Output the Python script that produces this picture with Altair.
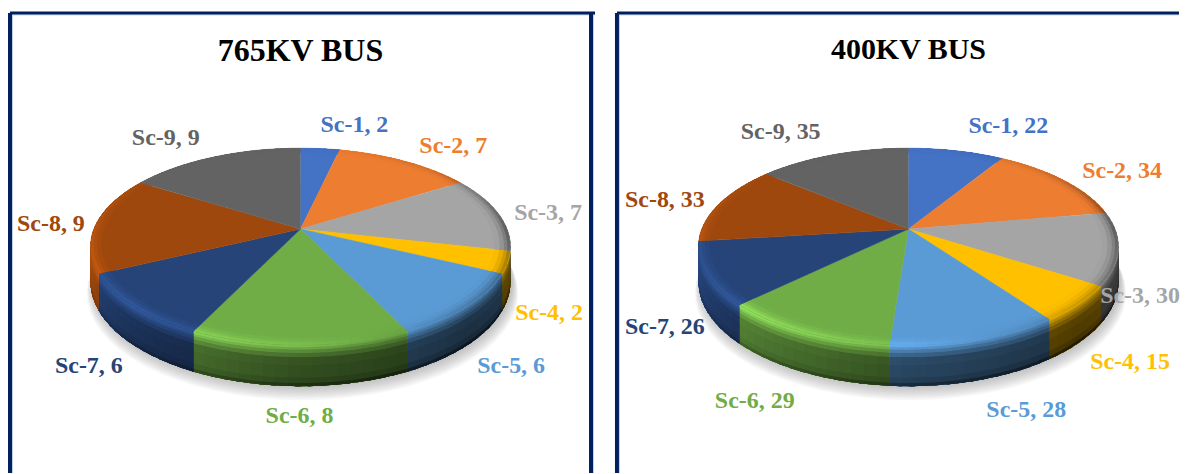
import altair as alt
import numpy as np
import pandas as pd

alt.data_transformers.disable_max_rows()

names = ["Sc-1", "Sc-2", "Sc-3", "Sc-4", "Sc-5", "Sc-6", "Sc-7", "Sc-8", "Sc-9"]
colors = ["#4472C4", "#ED7D31", "#A5A5A5", "#FFC000", "#5B9BD5", "#70AD47", "#264478", "#9E480E", "#636363"]
values_765 = [2, 7, 7, 2, 6, 8, 6, 9, 9]
values_400 = [22, 34, 30, 15, 28, 29, 26, 33, 35]
title_765 = "765KV BUS"
title_400 = "400KV BUS"

# label placement, in page pixels
label_x_765 = [355, 454, 549, 550, 512, 300, 89, 51, 166]
label_y_765 = [125, 146, 213, 313, 366, 416, 366, 224, 138]
label_x_400 = [1008, 1122, 1140, 1130, 1026, 754, 664, 664, 780]
label_y_400 = [126, 171, 296, 362, 410, 401, 327, 200, 132]

NAVY = "#002060"
PALE = "#c3cfe6"
A, B, K, D = 207.0, 95.4, 0.178, 34.0   # perspective of the pie disc
TH = [0, 45, 90, 135, 180, 225, 270, 315, 360]
RIM = [0, -.12, -.5, -.22, .12, .34, .18, 0, 0]
WALL = [-.5, -.5, -.6, -.66, -.52, -.24, .15, .1, -.5]
STEP = 3.0


def shade(col, f):
    rgb = np.array([int(col[i:i + 2], 16) for i in (1, 3, 5)], float)
    rgb = np.clip(rgb * (1 + f), 0, 255).astype(int)
    return "#%02x%02x%02x" % tuple(rgb)


def project(cx, cy, theta, r=1.0, z=0.0):
    t = np.radians(theta)
    u, v = r * np.sin(t), -r * np.cos(t)
    w = 1 - K * v
    return cx + A * u / w, cy + B * v / w + D * z / w


def poly(rows, q, pts, c):
    for i, (x, y) in enumerate(pts):
        rows.append({"x": round(float(x), 1), "y": round(float(y), 1), "q": q, "i": i, "c": c})


def panel(values, title, lx, ly, px, py, w, h, pcx, pcy, frame_x, pale_x):
    cx, cy = pcx - px, pcy - py
    total = sum(values)
    edges = np.concatenate([[0], np.cumsum(values) / total * 360])
    shadow, top = [], []

    NS = 10
    for n in range(NS):
        g = 1.0 + (NS - 1 - n) * 0.003
        ths = np.arange(0, 360, 5.0)
        pts = []
        for t in ths:
            x_, y_ = project(cx, cy, t, 1.0, 1.0 + (NS - 1 - n) * 0.035)
            pts.append((cx + (x_ - cx) * g + 2, y_ + 1))
        poly(shadow, "s%d" % n, pts, "#8a8a8a")

    rs = [.925, .95, .97, .985, 1.0]
    zs = [0, .06, .12, .2, .3, .5, .8, .93]
    rim_layers = [[] for _ in rs[:-1]]
    wall_layers = [[] for _ in zs]
    q = 0
    for s, col in enumerate(colors):
        a0, a1 = edges[s], edges[s + 1]
        grid = np.linspace(a0, a1, int(np.ceil((a1 - a0) / STEP)) + 1)
        pts = [project(cx, cy, 0, 0.0)] + [project(cx, cy, t) for t in grid]
        poly(top, "t%d" % s, pts, col)
        for t0, t1 in zip(grid[:-1], grid[1:]):
            tm = (t0 + t1) / 2
            t1x = min(t1 + 1.2, a1)
            fr = float(np.interp(tm, TH, RIM))
            fw = float(np.interp(tm, TH, WALL))
            for j in range(len(rs) - 1):
                f = fr * ((j + .5) / 4) ** 1.5
                q += 1
                poly(rim_layers[j], "r%d" % q, [project(cx, cy, t0, rs[j]), project(cx, cy, t1x, rs[j]),
                                                project(cx, cy, t1x, 1.0), project(cx, cy, t0, 1.0)],
                     shade(col, f))
            # only the part of the side wall that faces the viewer
            if np.cos(np.radians(tm)) < -K + 0.03:
                fs = [fr * .95 + fw * .05, fr * .75 + fw * .25, fr * .5 + fw * .5, fr * .25 + fw * .75,
                      fw, fw - .03, fw - .08, fw - .2]
                for j in range(len(zs)):
                    q += 1
                    poly(wall_layers[j], "w%d" % q, [project(cx, cy, t0, 1, zs[j]), project(cx, cy, t1x, 1, zs[j]),
                                                     project(cx, cy, t1x, 1, 1.0), project(cx, cy, t0, 1, 1.0)],
                         shade(col, fs[j]))
    rim = [r for layer in rim_layers for r in layer]
    wall = [r for layer in wall_layers for r in layer]

    xs = alt.X("x:Q", scale=alt.Scale(domain=[0, w]), axis=None)
    ys = alt.Y("y:Q", scale=alt.Scale(domain=[h, 0]), axis=None)

    def shape(rows, sw=0.0):
        return alt.Chart(pd.DataFrame(rows)).mark_line(filled=True, strokeWidth=sw, interpolate="linear").encode(
            x=xs, y=ys, detail="q:N", order="i:Q",
            fill=alt.Fill("c:N", scale=None), stroke=alt.Stroke("c:N", scale=None))

    shad = alt.Chart(pd.DataFrame(shadow)).mark_line(filled=True, strokeWidth=0, opacity=0.05, fill="#707070").encode(
        x=xs, y=ys, detail="q:N", order="i:Q")

    labels = pd.DataFrame({
        "x": [a - px for a in lx], "y": [b - py for b in ly],
        "t": ["%s, %d" % (n, v) for n, v in zip(names, values)], "c": colors})
    text = alt.Chart(labels).mark_text(font="Liberation Serif", fontWeight="bold", fontSize=24,
                                       align="center", baseline="middle").encode(
        x=xs, y=ys, text="t:N", color=alt.Color("c:N", scale=None))
    ttl = alt.Chart(pd.DataFrame({"x": [pcx - px], "y": [title[1] - py], "t": [title[0]]})).mark_text(
        font="Liberation Serif", fontWeight="bold", fontSize=title[2], color="#000000",
        align="center", baseline="middle").encode(x=xs, y=ys, text="t:N")

    fv = alt.Chart(pd.DataFrame({"x": frame_x})).mark_rule(color=NAVY, strokeWidth=4).encode(x=xs)
    fh = alt.Chart(pd.DataFrame({"y": [0]})).mark_rule(color=NAVY, strokeWidth=3).encode(y=ys)
    pv = alt.Chart(pd.DataFrame({"x": pale_x})).mark_rule(color=PALE, strokeWidth=1).encode(x=xs)
    ph = alt.Chart(pd.DataFrame({"y": [2]})).mark_rule(color=PALE, strokeWidth=1).encode(y=ys)

    return alt.layer(ph, pv, fh, fv, shad, shape(wall), shape(top, 0.5), shape(rim), text, ttl).properties(width=w, height=h)


left = panel(values_765, (title_765, 51, 32), label_x_765, label_y_765, 10, 12.5, 586, 461, 301, 229, [0, 582], [2.5, 584.5])
right = panel(values_400, (title_400, 50, 30), label_x_400, label_y_400, 616, 12.5, 563, 461, 908, 229, [0], [2.5])

chart = alt.hconcat(left, right, spacing=18, padding={"left": 0, "top": 2.5, "right": 0, "bottom": 0},
                    background="#ffffff").configure_view(stroke=None)

chart.save("out.html", embed_options={"renderer": "svg", "actions": False})
